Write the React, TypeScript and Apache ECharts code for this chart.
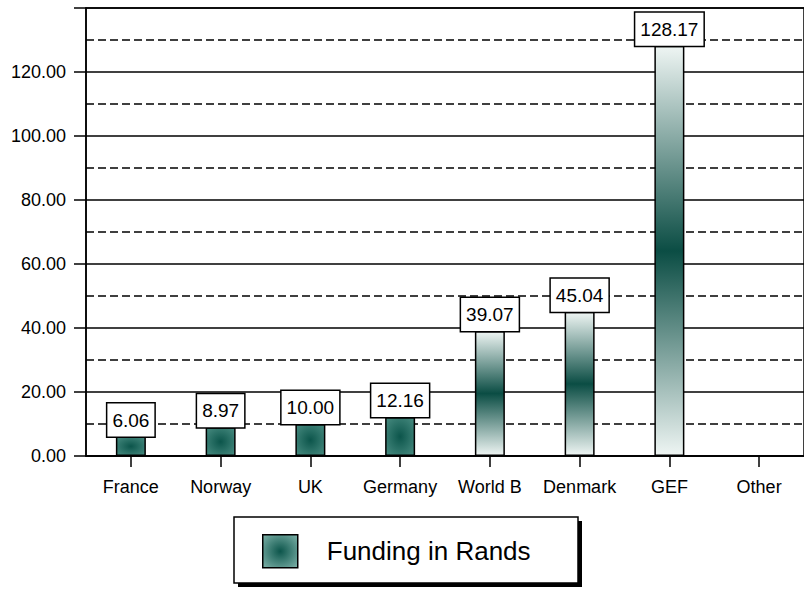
import React, { useEffect, useRef } from "react";
import * as echarts from "echarts";

const categories = ["France", "Norway", "UK", "Germany", "World B", "Denmark", "GEF", "Other"];
const funding: (number | null)[] = [6.06, 8.97, 10.0, 12.16, 39.07, 45.04, 128.17, null];
const seriesName = "Funding in Rands";

const FONT = "Liberation Sans";

function barColor(v: number | null) {
  if (v != null && v < 15) {
    return new echarts.graphic.RadialGradient(0.5, 0.5, 0.9, [
      { offset: 0, color: "#0c554b" },
      { offset: 1, color: "#5a9c91" },
    ]);
  }
  return new echarts.graphic.LinearGradient(0, 0, 0, 1, [
    { offset: 0, color: "#eef5f3" },
    { offset: 0.5, color: "#0b4d44" },
    { offset: 1, color: "#eef5f3" },
  ]);
}

export default function App() {
  const ref = useRef<HTMLDivElement>(null);
  useEffect(() => {
    if (!ref.current) return;
    const chart = echarts.init(ref.current, null, { renderer: "svg" });
    const legendGradient = new echarts.graphic.RadialGradient(0.5, 0.5, 0.7, [
      { offset: 0, color: "#0c554b" },
      { offset: 1, color: "#7fb3aa" },
    ]);
    chart.setOption({
      animation: false,
      backgroundColor: "#ffffff",
      textStyle: { fontFamily: FONT },
      grid: {
        left: 86,
        top: 8,
        width: 720,
        height: 448,
        show: true,
        borderColor: "#000",
        borderWidth: 1.5,
        backgroundColor: "transparent",
      },
      graphic: [
        {
          type: "rect",
          z: 100,
          shape: { x: 238, y: 521, width: 344, height: 66 },
          style: { fill: "#000" },
        },
        {
          type: "rect",
          z: 101,
          shape: { x: 234, y: 517, width: 344, height: 66 },
          style: { fill: "#fff", stroke: "#000", lineWidth: 1.5 },
        },
      ],
      legend: {
        z: 200,
        left: 257,
        top: 529,
        itemWidth: 35,
        itemHeight: 33,
        icon: "rect",
        data: [
          {
            name: seriesName,
            itemStyle: { color: legendGradient, borderColor: "#000", borderWidth: 1.5 },
          },
        ],
        textStyle: {
          fontFamily: FONT,
          fontSize: 26,
          color: "#000",
          padding: [0, 0, 0, 24],
        },
      },
      xAxis: {
        type: "category",
        data: categories,
        axisLine: { show: true, lineStyle: { color: "#000", width: 1.5 } },
        axisTick: { show: true, alignWithLabel: true, length: 11, lineStyle: { color: "#000", width: 1.5 } },
        axisLabel: { color: "#000", fontSize: 18, fontFamily: FONT, margin: 22, interval: 0, hideOverlap: false },
        splitLine: { show: false },
      },
      yAxis: {
        type: "value",
        min: 0,
        max: 140,
        interval: 20,
        axisLine: { show: true, lineStyle: { color: "#000", width: 1.5 } },
        axisTick: { show: true, length: 12, lineStyle: { color: "#000", width: 1.5 } },
        axisLabel: {
          color: "#000",
          fontSize: 18,
          fontFamily: FONT,
          margin: 20,
          formatter: (v: number) => (v >= 140 ? "" : v.toFixed(2)),
        },
        splitLine: { show: true, lineStyle: { color: "#000", width: 1.5 } },
        minorTick: { show: false, splitNumber: 2 },
        minorSplitLine: { show: true, lineStyle: { color: "#000", width: 1.5, type: [8, 4] } },
      },
      series: [
        {
          name: seriesName,
          type: "bar",
          barWidth: 30,
          data: funding.map((v) => ({
            value: v,
            itemStyle: { color: barColor(v), borderColor: "#000", borderWidth: 1.5 },
          })),
          label: {
            show: true,
            position: "top",
            distance: 0,
            color: "#000",
            fontFamily: FONT,
            fontSize: 19,
            lineHeight: 19,
            backgroundColor: "#fff",
            borderColor: "#000",
            borderWidth: 1.5,
            padding: [7, 5, 7, 5],
            formatter: (p: any) => (p.value == null ? "" : Number(p.value).toFixed(2)),
          },
        },
      ],
    });
    return () => chart.dispose();
  }, []);
  return (
    <div
      ref={ref}
      style={{ position: "fixed", left: 0, top: 0, width: 804, height: 589 }}
    />
  );
}
